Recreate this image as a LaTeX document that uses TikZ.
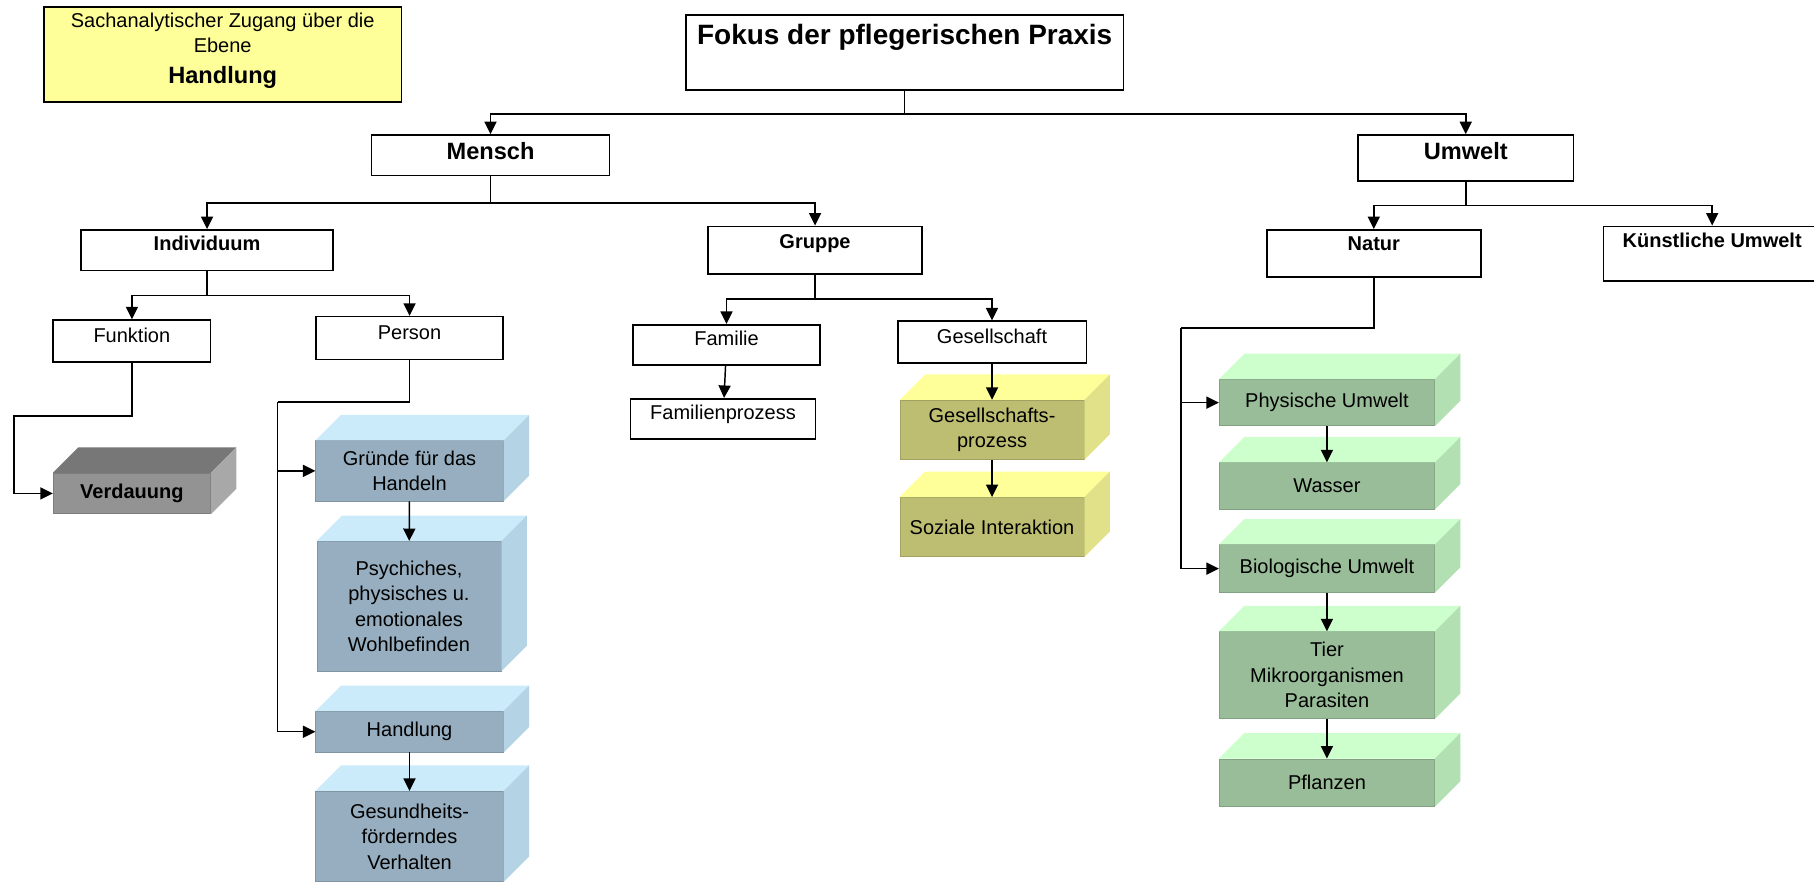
\documentclass[tikz,border=0pt]{standalone}
\usepackage{fontspec}
\setmainfont{Liberation Sans}
\usetikzlibrary{arrows.meta}

\definecolor{notiz}{HTML}{FFFF99}
\definecolor{grayfront}{HTML}{939393}
\definecolor{graytop}{HTML}{777777}
\definecolor{grayside}{HTML}{A8A8A8}
\definecolor{bluefront}{HTML}{96AEBF}
\definecolor{bluetop}{HTML}{CCEBFA}
\definecolor{blueside}{HTML}{B4D3E4}
\definecolor{yelfront}{HTML}{BEBE72}
\definecolor{yeltop}{HTML}{FFFF99}
\definecolor{yelside}{HTML}{E1E189}
\definecolor{grnfront}{HTML}{99BD99}
\definecolor{grntop}{HTML}{CCFFCC}
\definecolor{grnside}{HTML}{B3E0B3}

\newcommand{\un}{0.025cm}

\tikzset{
  txt/.style={font=\fontsize{12.3}{15.7}\selectfont},
  txtb/.style={font=\fontsize{12.3}{15.7}\selectfont\bfseries},
  txtbig/.style={font=\fontsize{14.5}{18}\selectfont\bfseries},
  wbox/.style n args={3}{draw, fill=white, line width=1pt, anchor=north, inner xsep=2pt, inner ysep=0pt,
    minimum width=#1*\un, text height=#3*\un, text depth=(#2-#3)*\un},
  cube/.style n args={3}{fill=#1front, draw=#1front!85!black, line width=0.5pt, txt, align=center,
    inner sep=1pt, minimum width=#2*\un, minimum height=#3*\un},
  conn/.style={line width=0.9pt},
  arr/.style={line width=0.9pt, -{Triangle[length=0.27cm,width=0.26cm]}}
}

\begin{document}
\begin{tikzpicture}[x=\un, y=-\un]
\useasboundingbox (0,0) rectangle (1568,762);
%note
\node[draw, fill=notiz, line width=1pt, align=center, txt, inner ysep=0pt,
  minimum width=309*\un, minimum height=82*\un] (ebene) at (192.5,47)
  {Sachanalytischer Zugang über die\\Ebene\\[3pt]{\fontsize{14.5}{18}\selectfont\bfseries Handlung}\rule[-0.28cm]{0pt}{0pt}};
%top
\node[wbox={378}{65}{26}, font=\fontsize{17.2}{20}\selectfont\bfseries] (fokus) at (782,12) {Fokus der pflegerischen Praxis};
\node[wbox={206}{35}{21}, txtbig] (mensch) at (424,116) {Mensch};
\node[wbox={186}{40}{21}, txtbig] (umwelt) at (1267,116) {Umwelt};
%second row
\node[wbox={218}{35}{18}, txtb] (indiv) at (179,198) {Individuum};
\node[wbox={185}{41}{19}, txtb] (gruppe) at (704.5,195) {Gruppe};
\node[wbox={185}{41}{18}, txtb] (natur) at (1187.5,198) {Natur};
\node[wbox={188}{47}{18}, txtb] (kuenstl) at (1480,195) {Künstliche Umwelt};
%third row
\node[wbox={136}{36}{19}, txt] (funktion) at (114,276) {Funktion};
\node[wbox={162}{37}{20}, txt] (person) at (354,273) {Person};
\node[wbox={162}{35}{18}, txt] (familie) at (628,280) {Familie};
\node[wbox={163}{36}{19}, txt] (gesell) at (857.5,277) {Gesellschaft};
\node[wbox={160}{35}{18}, txt] (famproz) at (625,344) {Familienprozess};
%blocks
\node[cube={gray}{136}{35}, txtb] (verd) at (114,426.5) {Verdauung};
\node[cube={blue}{162}{52}] (gruende) at (354,407) {Gründe für das\\Handeln};
\node[cube={blue}{159}{112}] (psych) at (353.5,524) {Psychiches,\\physisches u.\\emotionales\\Wohlbefinden};
\node[cube={blue}{162}{35}] (handl) at (354,632.5) {Handlung};
\node[cube={blue}{162}{78}] (gesund) at (354,723) {Gesundheits-\\förderndes\\Verhalten};
\node[cube={yel}{159}{51}] (gproz) at (857.5,371.5) {Gesellschafts-\\prozess};
\node[cube={yel}{159}{51}] (sozial) at (857.5,455.5) {Soziale Interaktion};
\node[cube={grn}{186}{40}] (phys) at (1147,348) {Physische Umwelt};
\node[cube={grn}{186}{40}] (wasser) at (1147,420) {Wasser};
\node[cube={grn}{186}{41}] (bio) at (1147,491.5) {Biologische Umwelt};
\node[cube={grn}{186}{75}] (tier) at (1147,583.5) {Tier\\Mikroorganismen\\Parasiten};
\node[cube={grn}{186}{41}] (pflanz) at (1147,676.5) {Pflanzen};
%top and side faces
\foreach \n/\col in {verd/gray, gruende/blue, psych/blue, handl/blue, gesund/blue, gproz/yel, sozial/yel,
    phys/grn, wasser/grn, bio/grn, tier/grn, pflanz/grn}{
  \fill[fill=\col top] (\n.north west) -- ++(22,-22) -- ([shift={(22,-22)}]\n.north east) -- (\n.north east) -- cycle;
  \fill[fill=\col side] (\n.north east) -- ++(22,-22) -- ([shift={(22,-22)}]\n.south east) -- (\n.south east) -- cycle;
}
%connectors
\draw[conn] (fokus.south) -- ++(0,20) coordinate (fbus);
\draw[arr] (fbus) -| (mensch);
\draw[arr] (fbus) -| (umwelt);
\draw[conn] (mensch.south) -- ++(0,23) coordinate (mbus);
\draw[arr] (mbus) -| (indiv);
\draw[arr] (mbus) -| (gruppe);
\draw[conn] (umwelt.south) -- ++(0,20) coordinate (ubus);
\draw[arr] (ubus) -| (natur);
\draw[arr] (ubus) -| (kuenstl);
\draw[conn] (indiv.south) -- ++(0,21) coordinate (ibus);
\draw[arr] (ibus) -| (funktion);
\draw[arr] (ibus) -| (person);
\draw[conn] (gruppe.south) -- ++(0,21) coordinate (gbus);
\draw[arr] (gbus) -| (familie);
\draw[arr] (gbus) -| (gesell);
\draw[arr] (familie) -- (famproz);
\draw[arr] (gesell) -- (gproz);
\draw[arr] (gproz) -- (sozial);
\draw[arr] (funktion.south) |- ++(-102,46) |- (verd.west);
\draw[conn] (person.south) |- ++(-114,36) coordinate (pbus);
\draw[arr] (pbus) |- (gruende.west);
\draw[arr] (pbus) |- (handl.west);
\draw[arr] (gruende) -- (psych);
\draw[arr] (handl) -- (gesund);
\draw[conn] (natur.south) |- ++(-166.5,43) coordinate (nbus);
\draw[arr] (nbus) |- (phys.west);
\draw[arr] (nbus) |- (bio.west);
\draw[arr] (phys) -- (wasser);
\draw[arr] (bio) -- (tier);
\draw[arr] (tier) -- (pflanz);
\end{tikzpicture}
\end{document}
